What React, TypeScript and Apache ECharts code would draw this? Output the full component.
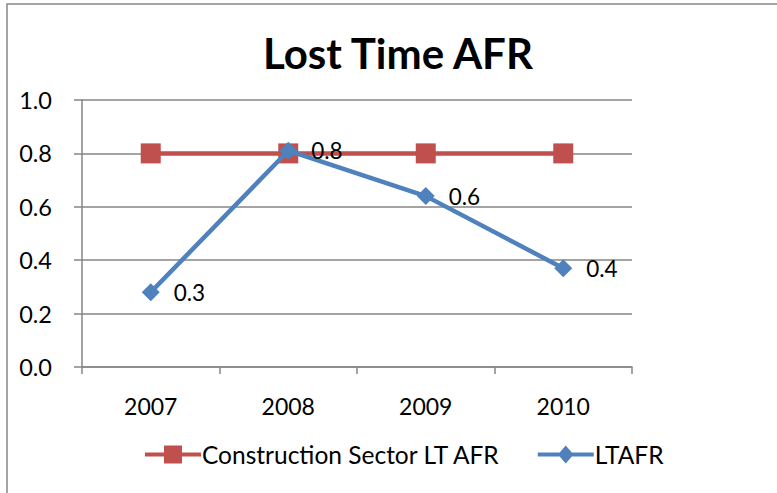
import React, { useEffect, useRef } from "react";
import * as echarts from "echarts";

const title = "Lost Time AFR";
const categories = ["2007", "2008", "2009", "2010"];
const sectorName = "Construction Sector LT AFR";
const sectorValues = [0.8, 0.8, 0.8, 0.8];
const ltafrName = "LTAFR";
const ltafrValues = [0.28, 0.81, 0.64, 0.37];
const yMin = 0;
const yMax = 1.0;
const yStep = 0.2;

const FONT = "Lato, 'Open Sans', sans-serif";

const RED_ICON = "path://M0,7H19V0H37V7H56V11H37V18H19V11H0Z";
const BLUE_ICON =
  "path://M0,7H21.9L28,0L34.1,7H56V11H34.1L28,18L21.9,11H0Z";

export default function App() {
  const ref = useRef<HTMLDivElement>(null);
  useEffect(() => {
    if (!ref.current) return;
    const chart = echarts.init(ref.current, null, { renderer: "svg" });
    chart.setOption({
      animation: false,
      backgroundColor: "#ffffff",
      textStyle: { fontFamily: FONT },
      title: {
        text: title,
        left: 258,
        top: 27,
        textStyle: { fontFamily: FONT, fontWeight: "bold", fontSize: 42, color: "#000" },
      },
      graphic: [
        {
          type: "rect",
          shape: { x: 7, y: 4, width: 820, height: 560 },
          style: { fill: "none", stroke: "#888888", lineWidth: 1.5 },
          silent: true,
        },
      ],
      grid: { left: 82, right: 145, top: 100, bottom: 126, containLabel: false },
      legend: {
        bottom: 21,
        left: 140,
        itemWidth: 56,
        itemHeight: 18,
        itemGap: 37,
        textStyle: { fontFamily: FONT, fontSize: 24.5, color: "#000", padding: [0, 0, 0, -4] },
        data: [
          { name: sectorName, icon: RED_ICON },
          { name: ltafrName, icon: BLUE_ICON },
        ],
      },
      xAxis: {
        type: "category",
        data: categories,
        boundaryGap: true,
        axisLine: { lineStyle: { color: "#868686", width: 1.5 } },
        axisTick: { show: true, length: 7, lineStyle: { color: "#868686", width: 1.5 } },
        axisLabel: { fontFamily: FONT, fontSize: 23, color: "#000", margin: 27 },
      },
      yAxis: {
        type: "value",
        min: yMin,
        max: yMax,
        interval: yStep,
        axisLine: { show: true, lineStyle: { color: "#868686", width: 1.5 } },
        axisTick: { show: true, length: 8, lineStyle: { color: "#868686", width: 1.5 } },
        splitLine: { show: true, lineStyle: { color: "#868686", width: 1.5 } },
        axisLabel: {
          fontFamily: FONT,
          fontSize: 23.5,
          color: "#000",
          margin: 30,
          formatter: (v: number) => v.toFixed(1),
        },
      },
      series: [
        {
          name: sectorName,
          type: "line",
          data: sectorValues,
          symbol: "rect",
          symbolSize: 20,
          itemStyle: { color: "#c0504d" },
          lineStyle: { color: "#c0504d", width: 4.5 },
          z: 2,
        },
        {
          name: ltafrName,
          type: "line",
          data: ltafrValues,
          symbol: "diamond",
          symbolSize: 18,
          itemStyle: { color: "#4f81bd" },
          lineStyle: { color: "#4f81bd", width: 4.5 },
          z: 3,
          label: {
            show: true,
            position: "right",
            distance: 14,
            fontFamily: FONT,
            fontSize: 22.5,
            color: "#000",
            formatter: (p: any) => Number(p.value).toFixed(1),
          },
        },
      ],
    });
    return () => chart.dispose();
  }, []);
  return (
    <div
      ref={ref}
      style={{ position: "fixed", left: 0, top: 0, width: 777, height: 493 }}
    />
  );
}
